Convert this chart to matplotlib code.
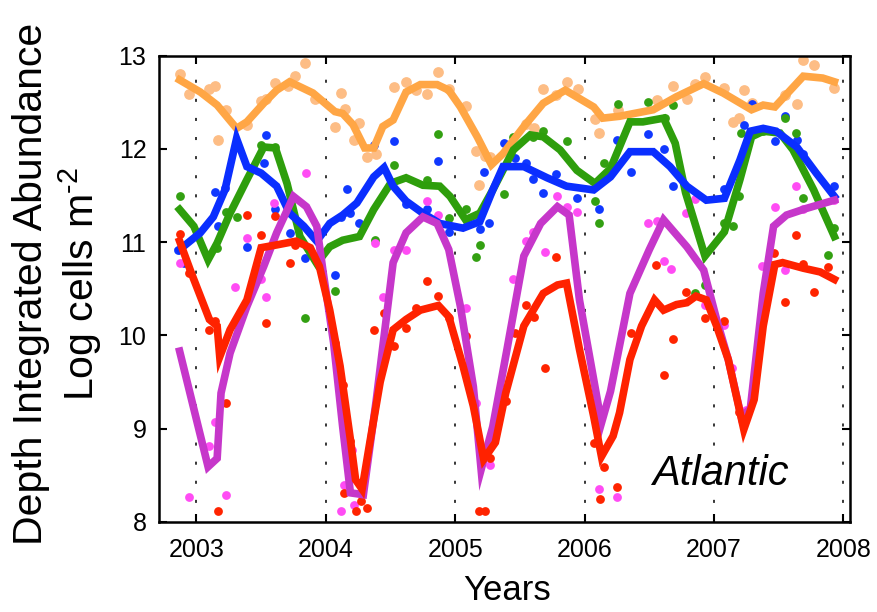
import matplotlib
matplotlib.use('Agg')
import matplotlib.pyplot as plt

plt.rcParams['font.family'] = ['Liberation Sans', 'DejaVu Sans']
plt.rcParams['mathtext.fontset'] = 'custom'
plt.rcParams['mathtext.rm'] = 'Liberation Sans'
plt.rcParams['mathtext.sf'] = 'Liberation Sans'
plt.rcParams['mathtext.it'] = 'Liberation Sans:italic'

years = [2003, 2004, 2005, 2006, 2007, 2008]
yticks = [8, 9, 10, 11, 12, 13]

# smoothed monthly curves (year, log cells m-2)
orange_x = [2002.87, 2003.03, 2003.16, 2003.31, 2003.39, 2003.52, 2003.62, 2003.72, 2003.90, 2004.07,
            2004.13, 2004.21, 2004.30, 2004.37, 2004.44, 2004.52, 2004.62, 2004.73, 2004.86, 2004.95,
            2005.04, 2005.17, 2005.28, 2005.37, 2005.53, 2005.68, 2005.85, 2005.96, 2006.07, 2006.14,
            2006.27, 2006.53, 2006.71, 2006.92, 2007.07, 2007.29, 2007.38, 2007.47, 2007.59, 2007.69,
            2007.84, 2007.93]
orange_y = [12.74, 12.61, 12.47, 12.22, 12.29, 12.49, 12.63, 12.72, 12.60, 12.40,
            12.38, 12.26, 12.01, 12.01, 12.24, 12.31, 12.61, 12.69, 12.69, 12.63,
            12.45, 12.13, 11.83, 11.95, 12.24, 12.49, 12.63, 12.54, 12.45, 12.33,
            12.35, 12.42, 12.56, 12.70, 12.60, 12.42, 12.47, 12.45, 12.63, 12.78,
            12.76, 12.72]

blue_x = [2002.87, 2003.03, 2003.13, 2003.22, 2003.31, 2003.39, 2003.50, 2003.62, 2003.72, 2003.83,
          2003.93, 2004.03, 2004.13, 2004.24, 2004.37, 2004.45, 2004.52, 2004.62, 2004.75, 2004.88,
          2005.06, 2005.19, 2005.29, 2005.37, 2005.53, 2005.71, 2005.86, 2006.07, 2006.20, 2006.35,
          2006.53, 2006.66, 2006.79, 2006.94, 2007.08, 2007.20, 2007.28, 2007.38, 2007.48, 2007.64,
          2007.79, 2007.93]
blue_y = [10.92, 11.10, 11.27, 11.56, 12.11, 11.81, 11.74, 11.60, 11.31, 11.17,
          11.01, 11.20, 11.29, 11.42, 11.70, 11.80, 11.60, 11.44, 11.31, 11.20,
          11.15, 11.22, 11.56, 11.81, 11.81, 11.69, 11.60, 11.56, 11.70, 11.97,
          11.97, 11.81, 11.60, 11.45, 11.47, 11.88, 12.19, 12.22, 12.19, 12.02,
          11.74, 11.49]

green_x = [2002.87, 2002.98, 2003.09, 2003.16, 2003.26, 2003.39, 2003.52, 2003.61, 2003.70, 2003.80,
           2003.93, 2004.03, 2004.13, 2004.26, 2004.37, 2004.50, 2004.62, 2004.75, 2004.88, 2004.96,
           2005.08, 2005.19, 2005.29, 2005.45, 2005.58, 2005.68, 2005.81, 2005.94, 2006.08, 2006.20,
           2006.35, 2006.45, 2006.61, 2006.70, 2006.78, 2006.93, 2007.08, 2007.20, 2007.29, 2007.38,
           2007.51, 2007.61, 2007.77, 2007.93]
green_y = [11.35, 11.17, 10.81, 10.99, 11.31, 11.67, 12.02, 12.01, 11.63, 11.06,
           10.77, 10.95, 11.02, 11.06, 11.35, 11.63, 11.69, 11.61, 11.60, 11.49,
           11.24, 11.31, 11.56, 11.99, 12.15, 12.13, 11.99, 11.77, 11.63, 11.79,
           12.29, 12.29, 12.33, 12.06, 11.53, 10.85, 11.11, 11.67, 12.13, 12.19,
           12.17, 11.99, 11.56, 11.06]

purple_x = [2002.87, 2003.09, 2003.16, 2003.19, 2003.26, 2003.39, 2003.52, 2003.62, 2003.75, 2003.85,
            2003.93, 2003.98, 2004.06, 2004.13, 2004.19, 2004.29, 2004.39, 2004.52, 2004.62, 2004.75,
            2004.86, 2004.95, 2005.04, 2005.14, 2005.20, 2005.29, 2005.40, 2005.53, 2005.66, 2005.79,
            2005.88, 2005.96, 2006.13, 2006.20, 2006.35, 2006.50, 2006.61, 2006.79, 2006.92, 2007.02,
            2007.11, 2007.21, 2007.28, 2007.38, 2007.46, 2007.56, 2007.71, 2007.93]
purple_y = [9.83, 8.59, 8.68, 9.38, 9.81, 10.31, 10.74, 11.10, 11.49, 11.38,
            11.17, 10.67, 9.92, 9.02, 8.31, 8.29, 9.31, 10.78, 11.10, 11.27,
            11.20, 10.92, 10.31, 9.45, 8.56, 9.02, 9.85, 10.85, 11.20, 11.38,
            11.29, 10.38, 9.06, 9.40, 10.45, 10.92, 11.24, 10.95, 10.70, 10.17,
            9.74, 9.13, 9.21, 10.45, 11.17, 11.29, 11.36, 11.45]

red_x = [2002.87, 2002.96, 2003.10, 2003.16, 2003.18, 2003.26, 2003.39, 2003.50, 2003.62, 2003.77,
         2003.88, 2003.95, 2004.03, 2004.11, 2004.19, 2004.23, 2004.28, 2004.34, 2004.42, 2004.52,
         2004.62, 2004.73, 2004.87, 2004.95, 2005.06, 2005.14, 2005.22, 2005.31, 2005.39, 2005.53,
         2005.68, 2005.79, 2005.86, 2005.96, 2006.07, 2006.13, 2006.22, 2006.27, 2006.35, 2006.44,
         2006.54, 2006.61, 2006.71, 2006.79, 2006.86, 2006.94, 2007.02, 2007.11, 2007.23, 2007.31,
         2007.38, 2007.47, 2007.53, 2007.69, 2007.82, 2007.93]
red_y = [11.01, 10.67, 10.17, 10.10, 9.77, 10.06, 10.38, 10.94, 10.97, 11.01,
         10.94, 10.74, 10.27, 9.67, 8.88, 8.45, 8.35, 8.85, 9.50, 10.06,
         10.17, 10.27, 10.32, 10.20, 9.67, 9.24, 8.67, 8.85, 9.38, 10.10,
         10.45, 10.54, 10.56, 9.85, 9.13, 8.70, 8.92, 9.17, 9.74, 10.10,
         10.38, 10.27, 10.33, 10.35, 10.42, 10.38, 10.10, 9.74, 8.99, 9.31,
         10.10, 10.76, 10.78, 10.72, 10.68, 10.60]

# individual samples
orange_px = [2002.87, 2002.94, 2003.10, 2003.14, 2003.23, 2003.17, 2003.39, 2003.50, 2003.54, 2003.61,
             2003.71, 2003.76, 2003.84, 2003.92, 2004.07, 2004.12, 2004.15, 2004.26, 2004.22, 2004.32,
             2004.39, 2004.53, 2004.62, 2004.70, 2004.78, 2004.87, 2004.95, 2005.08, 2005.16, 2005.23,
             2005.27, 2005.18, 2005.55, 2005.61, 2005.68, 2005.78, 2005.86, 2005.95, 2006.08, 2006.11,
             2006.26, 2006.56, 2006.68, 2006.79, 2006.85, 2006.93, 2007.08, 2007.23, 2007.29, 2007.15,
             2007.19, 2007.55, 2007.64, 2007.69, 2007.77, 2007.93]
orange_py = [12.80, 12.59, 12.64, 12.68, 12.42, 12.10, 12.26, 12.51, 12.53, 12.71,
             12.67, 12.78, 12.92, 12.53, 12.23, 12.60, 12.43, 12.28, 12.10, 11.91,
             11.95, 12.66, 12.72, 12.63, 12.59, 12.82, 12.64, 12.46, 11.98, 11.92,
             11.91, 11.61, 12.27, 12.22, 12.64, 12.58, 12.72, 12.64, 12.32, 12.17,
             12.42, 12.52, 12.68, 12.54, 12.70, 12.77, 12.65, 12.63, 12.49, 12.29,
             12.33, 12.58, 12.48, 12.95, 12.90, 12.65]

blue_px = [2002.86, 2002.90, 2003.14, 2003.22, 2003.17, 2003.39, 2003.54, 2003.52, 2003.61, 2003.72,
           2003.84, 2004.07, 2004.16, 2004.12, 2004.19, 2004.26, 2004.37, 2004.53, 2004.62, 2004.78,
           2004.87, 2004.95, 2005.19, 2005.22, 2005.26, 2005.38, 2005.46, 2005.55, 2005.60, 2005.68,
           2005.78, 2005.94, 2006.11, 2006.25, 2006.36, 2006.49, 2006.61, 2006.68, 2007.08, 2007.23,
           2007.29, 2007.47, 2007.55, 2007.64, 2007.69, 2007.93]
blue_py = [10.92, 10.78, 11.54, 11.58, 11.17, 10.95, 12.15, 11.85, 11.35, 11.10,
           10.83, 10.65, 11.57, 11.27, 11.31, 11.20, 12.04, 12.08, 11.41, 11.35,
           11.87, 11.11, 11.14, 11.75, 11.20, 12.06, 11.90, 11.85, 11.68, 11.53,
           11.73, 11.47, 11.35, 12.10, 11.75, 12.16, 12.00, 11.60, 11.57, 12.26,
           12.48, 12.08, 12.35, 12.10, 11.95, 11.60]

green_px = [2002.87, 2003.16, 2003.23, 2003.31, 2003.50, 2003.61, 2003.84, 2004.07, 2004.38, 2004.53,
            2004.78, 2004.87, 2004.95, 2005.08, 2005.19, 2005.16, 2005.38, 2005.45, 2005.60, 2005.68,
            2005.86, 2006.08, 2006.11, 2006.15, 2006.26, 2006.49, 2006.62, 2006.68, 2006.85, 2006.93,
            2007.08, 2007.15, 2007.19, 2007.21, 2007.38, 2007.55, 2007.63, 2007.69, 2007.88, 2007.93]
green_py = [11.49, 10.94, 11.32, 11.27, 12.04, 12.02, 10.19, 10.48, 11.02, 11.83,
            11.67, 12.16, 11.26, 11.36, 10.97, 10.84, 11.52, 12.13, 12.13, 12.19,
            12.08, 11.44, 11.21, 11.85, 12.48, 12.50, 12.33, 12.47, 10.45, 10.54,
            11.20, 11.17, 11.50, 12.17, 12.19, 12.33, 12.17, 11.47, 10.86, 11.15]

magenta_px = [2002.87, 2002.94, 2003.10, 2003.14, 2003.23, 2003.30, 2003.39, 2003.50, 2003.54, 2003.60,
              2003.85, 2004.12, 2004.14, 2004.20, 2004.22, 2004.38, 2004.44, 2004.53, 2004.62, 2004.78,
              2004.87, 2005.08, 2005.16, 2005.27, 2005.45, 2005.55, 2005.60, 2005.69, 2005.79, 2005.86,
              2005.94, 2006.11, 2006.25, 2006.49, 2006.56, 2006.61, 2006.67, 2006.78, 2006.85, 2006.93,
              2007.08, 2007.14, 2007.25, 2007.37, 2007.47, 2007.55, 2007.63, 2007.69, 2007.93]
magenta_py = [10.78, 8.26, 8.81, 9.07, 8.29, 10.52, 11.04, 10.60, 10.41, 11.42,
              11.74, 8.11, 8.39, 8.77, 8.18, 10.99, 10.41, 10.92, 10.91, 11.44,
              11.29, 10.29, 9.27, 8.61, 10.60, 11.01, 11.11, 10.89, 11.50, 11.38,
              11.32, 8.35, 8.26, 11.20, 11.23, 10.80, 10.71, 11.31, 11.46, 10.32,
              10.11, 9.65, 9.20, 10.74, 11.38, 10.70, 11.60, 11.35, 11.45]

red_px = [2002.87, 2002.94, 2003.10, 2003.14, 2003.23, 2003.17, 2003.39, 2003.50, 2003.54, 2003.61,
          2003.72, 2003.76, 2004.07, 2004.13, 2004.19, 2004.14, 2004.23, 2004.32, 2004.27, 2004.37,
          2004.45, 2004.53, 2004.62, 2004.70, 2004.78, 2004.87, 2004.95, 2005.08, 2005.27, 2005.18,
          2005.23, 2005.39, 2005.46, 2005.55, 2005.61, 2005.69, 2005.78, 2006.07, 2006.15, 2006.12,
          2006.25, 2006.36, 2006.55, 2006.61, 2006.68, 2006.78, 2006.93, 2007.08, 2007.19, 2007.46,
          2007.55, 2007.63, 2007.69, 2007.77, 2007.88]
red_py = [11.09, 10.67, 10.06, 10.15, 9.27, 8.11, 11.29, 11.08, 10.13, 11.28,
          10.78, 10.97, 9.92, 9.47, 8.87, 8.31, 8.11, 8.15, 8.22, 10.06,
          10.24, 9.88, 10.08, 10.29, 10.58, 10.42, 10.19, 9.99, 8.68, 8.11,
          8.11, 9.29, 10.03, 10.33, 10.20, 9.65, 10.84, 8.85, 8.59, 8.24,
          8.37, 10.03, 10.75, 9.57, 9.96, 10.47, 10.19, 10.15, 9.18, 10.88,
          10.36, 11.08, 10.76, 10.47, 10.73]

fig = plt.figure(figsize=(8.78, 6.12), dpi=100)
ax = fig.add_axes([0.181, 0.1475, 0.787, 0.7615])

# samples underneath the curves
ax.scatter(orange_px, orange_py, s=60, color='#FDBD85', linewidths=0, zorder=2)
ax.scatter(blue_px, blue_py, s=40, color='#1038FF', linewidths=0, zorder=2)
ax.scatter(green_px, green_py, s=40, color='#33A012', linewidths=0, zorder=2)
ax.scatter(magenta_px, magenta_py, s=40, color='#FF4CF4', linewidths=0, zorder=2)
ax.scatter(red_px, red_py, s=40, color='#FF2400', linewidths=0, zorder=2)

lw = 5.5
ax.plot(orange_x, orange_y, color='#FFA645', lw=lw, solid_joinstyle='miter', zorder=3)
ax.plot(green_x, green_y, color='#2E9E0C', lw=lw, solid_joinstyle='miter', zorder=3)
ax.plot(blue_x, blue_y, color='#0A2EFF', lw=lw, solid_joinstyle='miter', zorder=3)
ax.plot(purple_x, purple_y, color='#C637CA', lw=lw, solid_joinstyle='miter', zorder=3)
ax.plot(red_x, red_y, color='#FF2200', lw=lw, solid_joinstyle='miter', zorder=3)

for yr in years:
    ax.axvline(yr, color='black', lw=1.1, linestyle=(0, (2, 10.5)), zorder=1)

ax.set_xlim(2002.71, 2008.05)
ax.set_ylim(8, 13)
ax.set_xticks(years)
ax.set_yticks(yticks)
ax.tick_params(direction='in', length=6, width=1.5, top=True, right=True,
               labelsize=18, pad=9)
ax.tick_params(axis='x', pad=12)
for sp in ax.spines.values():
    sp.set_linewidth(1.8)

ax.text(2007.05, 8.51, 'Atlantic', fontsize=30, fontstyle='italic',
        ha='center', va='center')

# plain hyphen in the exponent, not a math minus
fig.text(58 / 878, 0.536, 'Depth Integrated Abundance\nLog cells m$^{\u2010 2}$',
         rotation=90, ha='center', va='center', fontsize=29.5, linespacing=1.15)
fig.text(507 / 878, 1 - 590 / 612, 'Years', fontsize=25, ha='center', va='center')

fig.savefig('out.png', dpi=100)
